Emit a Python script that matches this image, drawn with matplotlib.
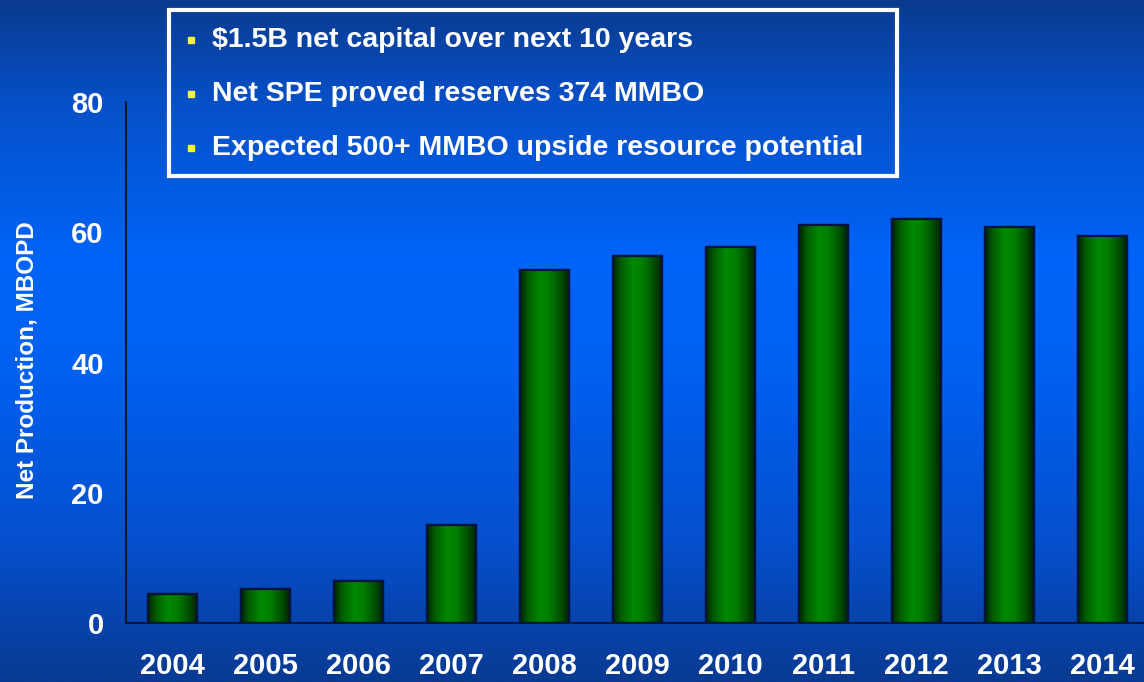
import numpy as np
import matplotlib.pyplot as plt
from matplotlib.colors import LinearSegmentedColormap
from matplotlib.patches import Rectangle

plt.rcParams['font.family'] = ['Liberation Sans', 'DejaVu Sans']
plt.rcParams['font.weight'] = 'bold'

years = ['2004', '2005', '2006', '2007', '2008', '2009', '2010', '2011', '2012', '2013', '2014']
production = [4.5, 5.2, 6.5, 15.1, 54.2, 56.3, 57.8, 61.1, 62.0, 60.8, 59.5]
notes = ['$1.5B net capital over next 10 years',
         'Net SPE proved reserves 374 MMBO',
         'Expected 500+ MMBO upside resource potential']

fig = plt.figure(figsize=(11.44, 6.82), dpi=100)

# blue backdrop, darker at top and bottom
bg = fig.add_axes([0, 0, 1, 1], zorder=0)
bg_cmap = LinearSegmentedColormap.from_list('bg', [
    (0.0, '#0a3a8e'), (0.15, '#0650c8'), (0.38, '#0064f8'),
    (0.55, '#0060f0'), (0.8, '#054fcc'), (1.0, '#083a92')])
grad = np.linspace(0, 1, 256).reshape(-1, 1)
bg.imshow(grad, aspect='auto', cmap=bg_cmap, extent=[0, 1, 0, 1], origin='upper')
bg.set_xlim(0, 1)
bg.set_ylim(0, 1)
bg.axis('off')

ax = fig.add_axes([126 / 1144, 1 - 623 / 682, 11 * 93 / 1144, (623 - 102) / 682], zorder=1)
ax.patch.set_alpha(0)

x = np.arange(len(years))
bars = ax.bar(x, production, width=0.52, color='#007a00', edgecolor='#04143c', linewidth=1.6, zorder=2)

# cylinder-like shading on each bar
bar_cmap = LinearSegmentedColormap.from_list('bar', [
    (0.0, '#002400'), (0.15, '#005a00'), (0.4, '#008800'),
    (0.6, '#007e00'), (0.85, '#004c00'), (1.0, '#002200')])
hgrad = np.linspace(0, 1, 128).reshape(1, -1)
for b in bars:
    x0, w, h = b.get_x(), b.get_width(), b.get_height()
    im = ax.imshow(hgrad, aspect='auto', cmap=bar_cmap, extent=[x0, x0 + w, 0, h], zorder=2.5)
    im.set_clip_path(b)
    ax.add_patch(Rectangle((x0, 0), w, h, fill=False, edgecolor='#04143c', linewidth=1.6, zorder=3))

ax.set_xlim(-0.5, len(years) - 0.5)
ax.set_ylim(0, 80)
ax.set_yticks([0, 20, 40, 60, 80])
ax.set_xticks(x)
ax.set_xticklabels(years)
ax.tick_params(axis='both', length=0, colors='white', labelsize=21)
ax.tick_params(axis='y', pad=16)
ax.tick_params(axis='x', pad=21)
for lbl in ax.get_xticklabels() + ax.get_yticklabels():
    lbl.set_fontweight('bold')
for side in ['top', 'right']:
    ax.spines[side].set_visible(False)
ax.spines['left'].set_color('#0a1838')
ax.spines['bottom'].set_color('#0a1838')
ax.spines['left'].set_linewidth(1.5)
ax.spines['bottom'].set_linewidth(1.5)

fig.text(27 / 1144, 1 - 360 / 682, 'Net Production, MBOPD', rotation=90, color='white',
         fontsize=17.5, fontweight='bold', ha='center', va='center')

# bullet box
bg.add_patch(Rectangle((169 / 1144, 1 - 176 / 682), 728 / 1144, 166 / 682,
                       fill=False, edgecolor='white', linewidth=3, zorder=5))
for i, note in enumerate(notes):
    yy = 1 - (40 + 54 * i) / 682
    bg.plot([191 / 1144], [yy], marker='s', markersize=5, color='#f4f43c', zorder=6)
    bg.text(212 / 1144, yy, note, color='white', fontsize=20.5, fontweight='bold',
            ha='left', va='center', zorder=6)

fig.savefig('out.png', dpi=100)
